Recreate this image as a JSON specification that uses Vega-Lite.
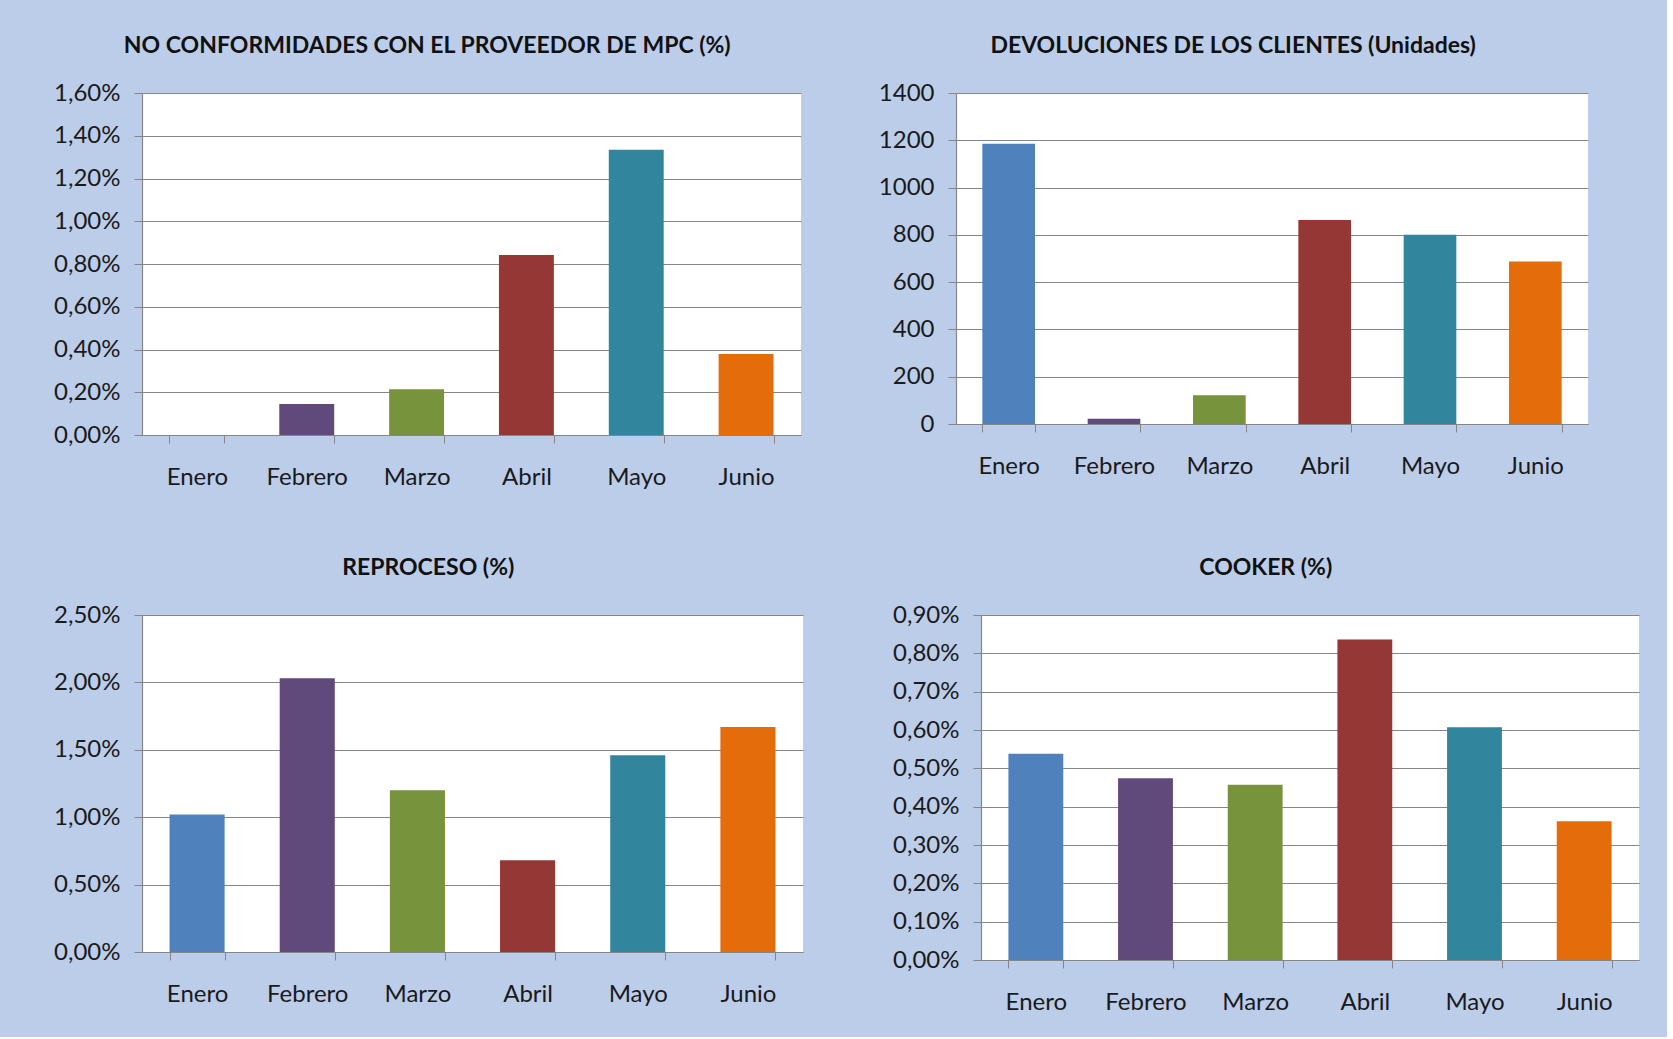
{
  "$schema": "https://vega.github.io/schema/vega-lite/v6.json",
  "background": "#bccdea",
  "padding": {"left": 53, "top": 35, "right": 28, "bottom": 23},
  "datasets": {
    "meses": [
      {"mes": "Enero", "nc": 0.0, "dev": 1185, "rep": 0.0102, "cook": 0.00538},
      {"mes": "Febrero", "nc": 0.00145, "dev": 22, "rep": 0.0203, "cook": 0.00474},
      {"mes": "Marzo", "nc": 0.00214, "dev": 122, "rep": 0.0120, "cook": 0.00457},
      {"mes": "Abril", "nc": 0.00842, "dev": 863, "rep": 0.0068, "cook": 0.00836},
      {"mes": "Mayo", "nc": 0.01335, "dev": 800, "rep": 0.0146, "cook": 0.00607},
      {"mes": "Junio", "nc": 0.00379, "dev": 687, "rep": 0.0167, "cook": 0.00362}
    ]
  },
  "vconcat": [
    {
      "hconcat": [
        {
          "data": {"name": "meses"},
          "title": {"text": "NO CONFORMIDADES CON EL PROVEEDOR   DE MPC (%)"},
          "width": 659,
          "height": 342,
          "mark": {"type": "bar"},
          "encoding": {
            "x": {"field": "mes", "type": "nominal", "sort": null, "title": null,
                  "scale": {"paddingInner": 0.5, "paddingOuter": 0.25}},
            "y": {"field": "nc", "type": "quantitative", "title": null,
                  "scale": {"domain": [0, 0.016], "nice": false},
                  "axis": {"values": [0, 0.002, 0.004, 0.006, 0.008, 0.01, 0.012, 0.014, 0.016], "format": ".2%"}},
            "color": {"field": "mes", "type": "nominal", "legend": null,
                      "scale": {"domain": ["Enero", "Febrero", "Marzo", "Abril", "Mayo", "Junio"],
                                "range": ["#4f81bd", "#604a7b", "#77933c", "#953735", "#31859c", "#e46c0a"]}}
          }
        },
        {
          "data": {"name": "meses"},
          "title": {"text": "DEVOLUCIONES  DE LOS CLIENTES (Unidades)"},
          "width": 632,
          "height": 331,
          "mark": {"type": "bar"},
          "encoding": {
            "x": {"field": "mes", "type": "nominal", "sort": null, "title": null,
                  "scale": {"paddingInner": 0.5, "paddingOuter": 0.25}},
            "y": {"field": "dev", "type": "quantitative", "title": null,
                  "scale": {"domain": [0, 1400], "nice": false},
                  "axis": {"values": [0, 200, 400, 600, 800, 1000, 1200, 1400], "format": "d"}},
            "color": {"field": "mes", "type": "nominal", "legend": null,
                      "scale": {"domain": ["Enero", "Febrero", "Marzo", "Abril", "Mayo", "Junio"],
                                "range": ["#4f81bd", "#604a7b", "#77933c", "#953735", "#31859c", "#e46c0a"]}}
          }
        }
      ],
      "spacing": 77
    },
    {
      "hconcat": [
        {
          "data": {"name": "meses"},
          "title": {"text": "REPROCESO (%)"},
          "width": 661,
          "height": 337,
          "mark": {"type": "bar"},
          "encoding": {
            "x": {"field": "mes", "type": "nominal", "sort": null, "title": null,
                  "scale": {"paddingInner": 0.5, "paddingOuter": 0.25}},
            "y": {"field": "rep", "type": "quantitative", "title": null,
                  "scale": {"domain": [0, 0.025], "nice": false},
                  "axis": {"values": [0, 0.005, 0.01, 0.015, 0.02, 0.025], "format": ".2%"}},
            "color": {"field": "mes", "type": "nominal", "legend": null,
                      "scale": {"domain": ["Enero", "Febrero", "Marzo", "Abril", "Mayo", "Junio"],
                                "range": ["#4f81bd", "#604a7b", "#77933c", "#953735", "#31859c", "#e46c0a"]}}
          }
        },
        {
          "data": {"name": "meses"},
          "title": {"text": "COOKER (%)"},
          "width": 658,
          "height": 345,
          "mark": {"type": "bar"},
          "encoding": {
            "x": {"field": "mes", "type": "nominal", "sort": null, "title": null,
                  "scale": {"paddingInner": 0.5, "paddingOuter": 0.25}},
            "y": {"field": "cook", "type": "quantitative", "title": null,
                  "scale": {"domain": [0, 0.009], "nice": false},
                  "axis": {"values": [0, 0.001, 0.002, 0.003, 0.004, 0.005, 0.006, 0.007, 0.008, 0.009], "format": ".2%"}},
            "color": {"field": "mes", "type": "nominal", "legend": null,
                      "scale": {"domain": ["Enero", "Febrero", "Marzo", "Abril", "Mayo", "Junio"],
                                "range": ["#4f81bd", "#604a7b", "#77933c", "#953735", "#31859c", "#e46c0a"]}}
          }
        }
      ],
      "spacing": 89
    }
  ],
  "spacing": 68,
  "resolve": {"scale": {"color": "shared"}},
  "config": {
    "locale": {"number": {"decimal": ",", "thousands": ".", "grouping": [3], "currency": ["", " €"]}},
    "view": {"fill": "white", "stroke": null},
    "title": {"font": "Lato", "fontSize": 23, "fontWeight": "bold", "color": "#111111", "anchor": "middle", "frame": "bounds", "offset": 23},
    "axis": {
      "labelFont": "Lato",
      "labelFontSize": 24,
      "labelColor": "#1a1a1a",
      "domainColor": "#868686",
      "tickColor": "#868686",
      "gridColor": "#868686",
      "tickSize": 8,
      "domainWidth": 1.2,
      "gridWidth": 1.2
    },
    "axisX": {"tickBand": "extent", "labelPadding": 22, "labelAngle": 0, "grid": false},
    "axisY": {"labelPadding": 14, "grid": true}
  }
}
